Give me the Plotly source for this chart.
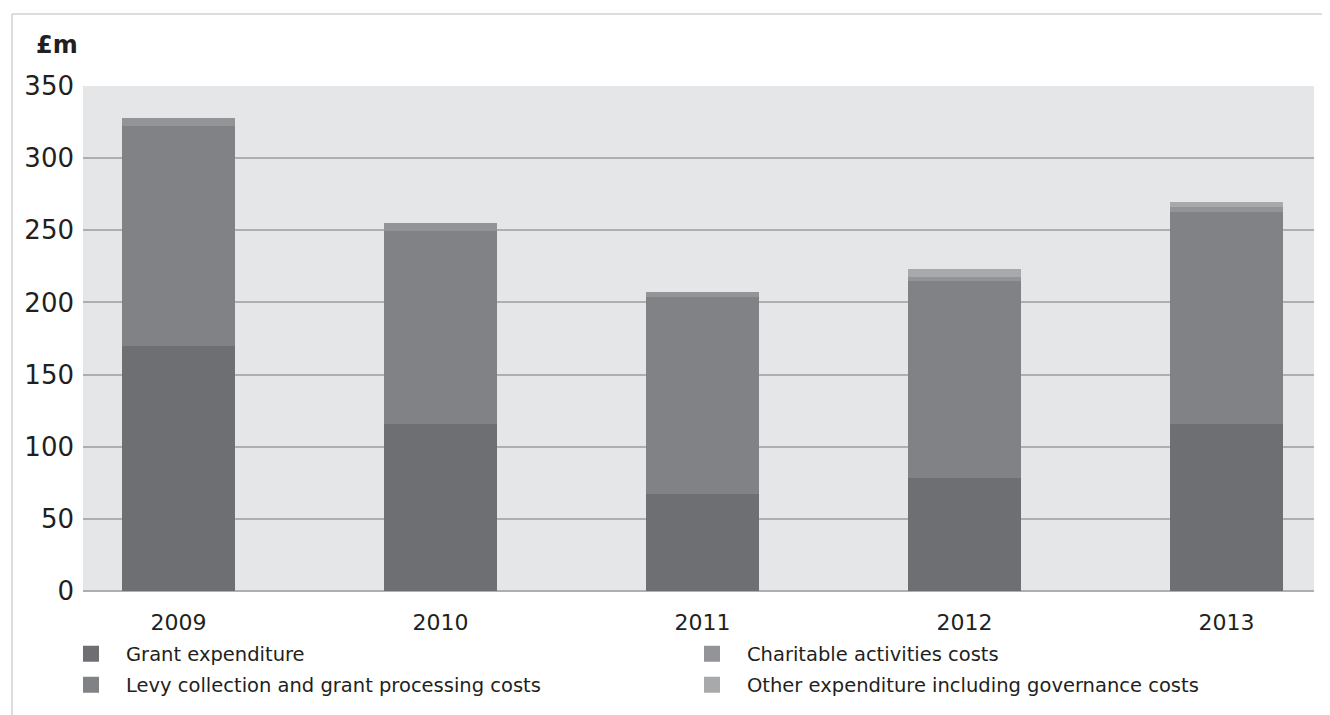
import plotly.graph_objects as go

years = ["2009", "2010", "2011", "2012", "2013"]
grant = [170, 116, 67, 78, 116]
levy = [152, 133.5, 136.7, 136.8, 146.6]
charitable = [5.6, 5.5, 3.5, 2.8, 3.5]
other = [0, 0, 0, 5.5, 3.5]
y_ticks = [0, 50, 100, 150, 200, 250, 300, 350]

names = ["Grant expenditure", "Levy collection and grant processing costs",
         "Charitable activities costs", "Other expenditure including governance costs"]
colors = ["#6e6f72", "#818285", "#939497", "#a8a9ab"]
series = [grant, levy, charitable, other]

OFF = 8  # page body margin
W, H = 1330 - OFF, 715 - OFF
# plot area in screen pixels
SL, SR, ST, SB = 83, 1314, 86, 591
L, R, T, B = SL - OFF, SR - OFF, ST - OFF, SB - OFF

# legend slots (screen px): marker centre x, row centre y
legend_ids = ["legend", "legend2", "legend3", "legend4"]
slot_x = [92, 92, 713, 713]
slot_y = [654, 685, 654, 685]

fig = go.Figure()
for name, col, vals in zip(names, colors, series):
    fig.add_trace(go.Bar(x=years, y=vals, name=name, marker=dict(color=col, line=dict(width=0)),
                         width=0.431, showlegend=False, hoverinfo="y+name"))
for name, col, lg in zip(names, colors, legend_ids):
    fig.add_trace(go.Scatter(x=[None], y=[None], mode="markers", name=name, legend=lg,
                             marker=dict(symbol="square", size=17, color=col, line=dict(width=0))))

pw, ph = R - L, B - T
def px_x(sx):
    return (sx - OFF - L) / pw
def px_y(sy):
    return (B - (sy - OFF)) / ph

legends = {}
for lg, sx, sy in zip(legend_ids, slot_x, slot_y):
    legends[lg] = dict(orientation="h", xref="container", yref="container",
                       x=(sx - OFF - 36) / W, y=1 - (sy - OFF) / H,
                       xanchor="left", yanchor="middle", itemwidth=60,
                       font=dict(family="DejaVu Sans", size=19.5, color="#231f20"),
                       bgcolor="rgba(0,0,0,0)", borderwidth=0)

fig.update_layout(
    width=W, height=H,
    margin=dict(l=L, r=W - R, t=T, b=H - B, pad=0, autoexpand=False),
    barmode="stack",
    paper_bgcolor="white",
    plot_bgcolor="#e5e6e8",
    font=dict(family="DejaVu Sans", color="#231f20"),
    xaxis=dict(type="category", range=[-0.3645, 4.334], showgrid=False, zeroline=False,
               showline=False, ticks="", tickfont=dict(size=22, family="DejaVu Sans"),
               ticklabelstandoff=16, fixedrange=True),
    yaxis=dict(range=[0, 350], tickvals=y_ticks, showgrid=True, gridcolor="#aeafb1",
               gridwidth=1.5, zeroline=True, zerolinecolor="#aeafb1", zerolinewidth=1.5,
               showline=False, ticks="", tickfont=dict(size=26, family="DejaVu Sans"),
               ticklabelstandoff=8, fixedrange=True),
    showlegend=True,
    **legends,
)

fig.add_annotation(text="<b>£m</b>", xref="paper", yref="paper", x=px_x(34), y=px_y(45),
                   xanchor="left", yanchor="middle", showarrow=False,
                   font=dict(family="DejaVu Sans", size=24, color="#231f20"))

# outer frame lines (top and left)
fig.add_shape(type="line", xref="paper", yref="paper", x0=px_x(12), x1=px_x(1340),
              y0=px_y(14), y1=px_y(14), line=dict(color="#d2d2d2", width=1.5))
fig.add_shape(type="line", xref="paper", yref="paper", x0=px_x(12), x1=px_x(12),
              y0=px_y(14), y1=px_y(720), line=dict(color="#d2d2d2", width=1.5))

fig.write_html("out.html")
